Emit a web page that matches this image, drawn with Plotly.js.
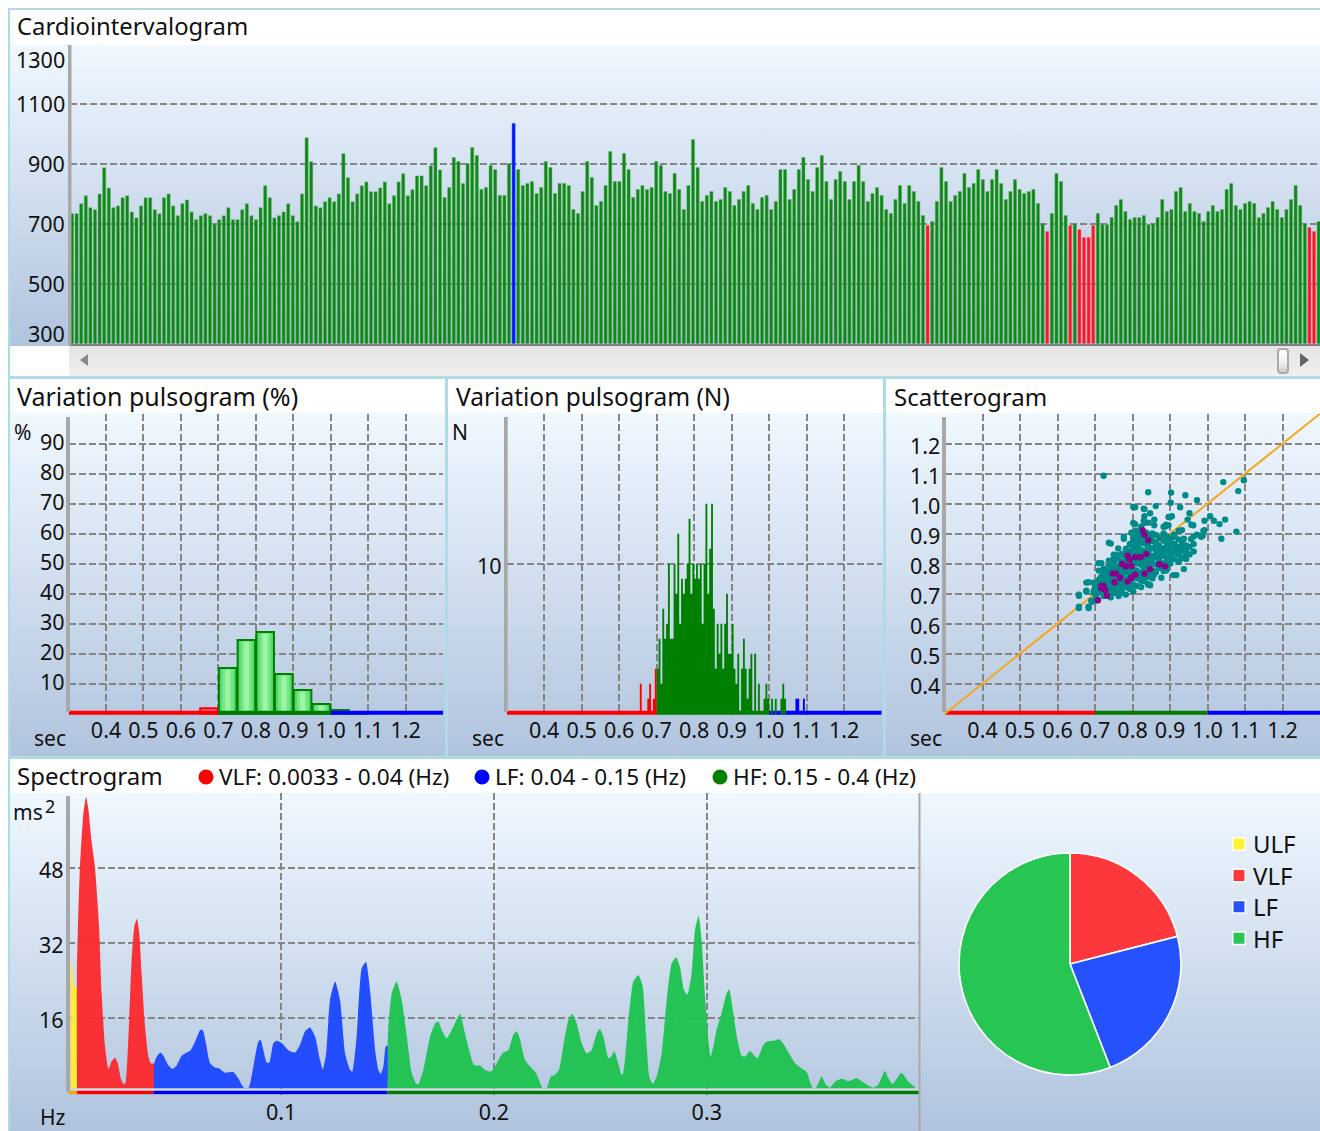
<!DOCTYPE html>
<html><head><meta charset="utf-8">
<script src="https://cdn.plot.ly/plotly-3.0.1.min.js"></script>
<style>
html,body{margin:0;padding:0;background:#fff;width:1320px;height:1131px;overflow:hidden}
#stage{position:absolute;left:0;top:0;width:1320px;height:1131px;overflow:hidden}
#stage div{position:absolute}
.grad{background:linear-gradient(to bottom,#f0f8ff,#b0c4de)}
.bd{background:#aedbe7}
#plot{left:0;top:0;width:1320px;height:1131px}
</style></head><body>
<div id="stage">
  <div class="bd" style="left:8px;top:8px;width:1312px;height:2px"></div>
  <div class="bd" style="left:8px;top:8px;width:2px;height:1123px"></div>
  <div class="grad" style="left:10px;top:45px;width:1310px;height:301px"></div>
  <div style="left:69px;top:346px;width:1251px;height:30px;background:linear-gradient(to bottom,#e4e4e4,#f0f0f0)"></div>
  <div style="left:80px;top:354px;width:8px;height:12px;background:#8a8a8a;clip-path:polygon(100% 0,100% 100%,0 50%)"></div>
  <div style="left:1300px;top:353px;width:9px;height:14px;background:#666;clip-path:polygon(0 0,0 100%,100% 50%)"></div>
  <div style="left:1277px;top:348px;width:8px;height:22px;border:2px solid #aaa;border-radius:4px;background:linear-gradient(to bottom,#fff,#f0f0f0 60%,#ccc)"></div>
  <div class="bd" style="left:8px;top:376px;width:1312px;height:3px"></div>
  <div class="grad" style="left:10px;top:413px;width:1310px;height:343px"></div>
  <div class="bd" style="left:445px;top:379px;width:3px;height:378px"></div>
  <div class="bd" style="left:883px;top:379px;width:3px;height:378px"></div>
  <div class="bd" style="left:8px;top:756px;width:1312px;height:3px"></div>
  <div class="grad" style="left:10px;top:793px;width:1310px;height:338px"></div>
  <div id="plot"></div>
</div>
<script>
// ---------- Cardiointervalogram (ms) ----------
const rrValues = [
736,736,769,796,756,749,802,889,822,756,762,789,796,742,722,762,789,789,749,736,
789,802,762,729,769,782,742,716,729,736,729,702,716,729,756,716,716,749,769,729,
716,756,829,789,722,729,742,769,729,709,802,989,909,762,756,776,789,776,802,936,
856,776,802,829,842,809,809,822,842,769,796,842,869,796,816,862,862,829,896,956,882,
790,823,923,910,837,903,957,930,817,823,897,883,797,797,903,1037,883,830,837,843,
803,823,910,890,803,837,837,830,750,737,810,910,857,763,777,830,943,843,843,937,
883,790,817,830,817,823,910,897,810,803,870,817,750,830,983,890,777,797,810,777,
783,823,810,763,783,810,830,770,750,790,797,750,777,883,883,783,817,883,923,850,
810,890,930,843,783,850,877,843,783,843,897,843,777,803,823,
797,750,737,783,830,770,830,810,777,730,697,710,777,890,843,777,797,810,870,823,
837,883,850,810,850,883,837,783,810,850,817,803,810,817,770,703,677,737,870,843,
730,697,703,683,657,657,697,737,700,700,723,763,783,743,717,723,723,730,700,703,
723,783,743,750,810,823,743,770,743,737,710,743,763,743,750,817,837,763,750,770,
777,770,723,737,757,777,750,723,750,783,830,763,703,690,677,710];
const rrTicks = [500,700,900,1100];
const rrLow = 700, rrHigh = 1000;

// ---------- Variation pulsogram (%) ----------
const pctBinCenters = [0.675,0.725,0.775,0.825,0.875,0.925,0.975,1.025,1.075];
const pctValues = [1.8,15.2,24.6,27.2,13.2,7.9,3.2,1.2,0.5];
const secTicks = [0.4,0.5,0.6,0.7,0.8,0.9,1.0,1.1,1.2];
const pctTicks = [10,20,30,40,50,60,70,80,90];

// ---------- Variation pulsogram (N), bins of 0.005 s from 0.655 s ----------
const nBinStart = 0.655, nBinWidth = 0.005;
const nCounts = [2,0,0,0,1,2,0,1,3,
3,5,2,7,5,6,10,5,5,10,8,12,6,9,8,9,10,13,8,10,9,10,9,10,6,10,14,8,11,14,7,3,6,4,6,3,6,8,4,4,
6,3,2,4,0,3,5,3,1,3,4,0,4,0,2,0,0,1,2,1,0,1,0,1,0,0,1,2,1,0,0,0,0,0,1,1,0,0,1];
const nGreenEnd = 1.05;
const nTicks = [10];

// ---------- Colour bands under the histograms ----------
const bandRed = [0.3,0.7], bandGreen = [0.7,1.0], bandBlue = [1.0,1.3];

// ---------- Scatterogram ----------
const scatterOutX = [.723,1.042,1.097,1.082,.842,.941,.972,.902,.862,.807,.832,.927,.847,.952,.905,.832,.947,.858,1.007,.992,1.017,1.047,1.032,.962,.807,.832,.858,.887,.896,.932,.992,1.077,.987,.972,.963,.742,.762,.717,.937,.917,.877,.847,.683,.677,.657,.657,.683,.692];
const scatterOutY = [1.093,1.072,1.078,1.042,1.038,1.028,1.012,1.003,.992,.988,.982,.988,.968,.968,.958,.958,.947,.947,.958,.943,.943,.947,.932,.928,.932,.936,.928,.924,.928,.912,.912,.907,.893,.897,.891,.867,.851,.802,.782,.762,.753,.728,.738,.707,.693,.652,.652,.673];
const scatterColumns = [
[.705,[.712,.735]],[.712,[.705,.725,.748]],[.723,[.692,.716,.742,.771]],
[.731,[.703,.727,.752,.782]],[.742,[.688,.712,.736,.761,.792]],
[.751,[.703,.726,.752,.777,.801]],[.763,[.692,.718,.741,.767,.791,.816]],
[.771,[.707,.732,.756,.781,.806,.832]],[.782,[.697,.722,.747,.771,.796,.822,.846]],
[.793,[.716,.742,.766,.791,.817,.841,.866]],[.802,[.707,.731,.757,.782,.806,.832,.856,.881]],
[.811,[.726,.752,.776,.801,.827,.851,.876]],[.823,[.722,.746,.771,.797,.821,.846,.872,.896]],
[.832,[.742,.766,.792,.816,.841,.867,.891]],[.841,[.732,.756,.781,.806,.832,.856,.881]],
[.853,[.751,.777,.801,.826,.852,.876,.901]],[.862,[.771,.797,.821,.846,.871,.896]],
[.871,[.786,.811,.837,.861,.886]],[.883,[.776,.801,.826,.851,.877,.901]],
[.892,[.792,.816,.841,.866,.891]],[.901,[.801,.826,.851,.876]],[.912,[.816,.842,.866,.891]],
[.923,[.806,.831,.856,.881]],[.932,[.821,.846,.871]],[.943,[.816,.836,.861]],
[.952,[.831,.856]],[.963,[.841,.866]]];
const scatterPurpleX = [.827,.832,.842,.787,.837,.822,.807,.792,.772,.782,.797,.847,.872,.887,.832,.807,.797,.787,.767,.747,.756,.752,.717,.723,.727,.732,.708,.717];
const scatterPurpleY = [.912,.897,.878,.827,.832,.822,.822,.813,.799,.791,.792,.782,.798,.791,.767,.763,.753,.741,.753,.767,.767,.738,.726,.726,.712,.693,.678,.719];
const identityLine = [0.3,1.3];
const scatterYTicks = [0.4,0.5,0.6,0.7,0.8,0.9,1.0,1.1,1.2];

// ---------- Spectrogram ----------
const ulfF = [.0013,.0019,.0028,.0041];
const ulfV = [28.4,27,22.8,22.2];
const vlfF = [.0041,.0046,.0055,.0071,.0084,.0095,.0110,.0126,.0145,.0157,.0173,.0189,.0204,.0220,.0233,.0247,.0259,.0268,.0283,.0298,.0311,.0323,.0334,.0345,.0361,.0377,.0388,.0403];
const vlfV = [25.6,35.6,48,59.5,63.2,60.5,53.7,48,35.6,21.3,10,5.2,6.8,7.6,6.4,3.2,2,2.1,12.1,28.4,35.6,37.2,34.1,25.6,14.2,7.8,6.4,6.3];
const lfF = [.0403,.0416,.0434,.0450,.0470,.0491,.0510,.0533,.0557,.0575,.0596,.0619,.0632,.0647,.0666,.0690,.0710,.0737,.0776,.0799,.0815,.0827,.0846,.0857,.0878,.0893,.0904,.0917,.0932,.0945,.0964,.0979,.1003,.1034,.1066,.1089,.1113,.1136,.1160,.1183,.1196,.1212,.1230,.1254,.1277,.1301,.1324,.1335,.1355,.1379,.1399,.1418,.1442,.1457,.1468,.1481,.1492,.1501];
const lfV = [6.3,7.8,8.7,7.8,6,5.2,6,8,8.7,9.2,11,13.4,13.5,10.7,6.4,5.5,5.3,4.4,4.5,3.2,1.8,1.07,1.07,2.5,7.8,11,11.4,9.2,6.6,6.5,10.7,11.2,10.7,9.2,8.7,10.3,13.2,14,12.1,7.1,5.1,8.5,19.9,23.8,19.9,8.5,5,4.6,12.1,26.7,28,22,9.2,5,4.1,5.7,10,10.1];
const hfF = [.1501,.1504,.1520,.1543,.1567,.1591,.1614,.1634,.1645,.1669,.1700,.1724,.1739,.1755,.1778,.1802,.1841,.1864,.1888,.1907,.1935,.1958,.1982,.1997,.2021,.2044,.2068,.2091,.2107,.2123,.2146,.2170,.2198,.2213,.2229,.2248,.2267,.2287,.2306,.2326,.2350,.2369,.2389,.2412,.2436,.2459,.2483,.2498,.2514,.2538,.2549,.2566,.2584,.2600,.2608,.2632,.2655,.2679,.2699,.2715,.2730,.2746,.2765,.2788,.2812,.2835,.2856,.2874,.2893,.2909,.2929,.2945,.2962,.2976,.2992,.3007,.3018,.3031,.3046,.3070,.3093,.3106,.3125,.3144,.3164,.3180,.3203,.3227,.3239,.3266,.3281,.3313,.3341,.3368,.3391,.3415,.3446,.3469,.3485,.3498,.3513,.3540,.3560,.3579,.3603,.3634,.3665,.3704,.3743,.3782,.3806,.3837,.3853,.3873,.3915,.3947,.3983];
const hfV = [10.1,14.2,21.3,23.8,19.9,12.1,4.3,2.1,1.9,5,12.1,14.9,15.3,13.5,11.7,13.5,16.9,12.8,8.5,6,5.9,5,4.6,5,7.1,8.7,9.2,12.4,13.2,11.4,7.1,5.7,4.3,2.7,1.07,1.07,3.6,3.9,5,10,15.6,16.9,14.9,10.7,8.5,9.2,12.8,13.7,12.1,7.5,7.7,8.9,6.4,3.9,4.3,15.6,23.8,25.2,22.8,12.1,3.6,2,3.6,8.5,19.9,27.7,29,27,22,21,25.6,34.9,37.8,32.7,20.6,11.4,7.8,10,13.5,17.1,21.3,22.2,17.1,11.4,8,7.8,9,7.8,7.5,10.3,11,11.2,11.5,10,8.2,6.4,5.3,4.6,2.5,1.07,1.2,3.6,1.8,1.2,2.5,3.1,2.6,3.2,2.1,1.2,1.8,4.8,3.2,2,4.4,2.5,1.07];
const specBase = 1.07;
const specTicksX = [0.1,0.2,0.3];
const specTicksY = [16,32,48];
const specBands = [[0,0.0041,'#f5a300'],[0.0041,0.04,'#ff0000'],[0.04,0.15,'#0000f0'],[0.15,0.4,'#007d00']];

// ---------- Pie ----------
const pieLabels = ['ULF','VLF','LF','HF'];
const pieValues = [0,21.0,23.1,55.9];
const pieColors = ['#fff233','#fd383c','#2551ff','#27c554'];

// ---------- Header legend ----------
const bandLegendText = ['VLF: 0.0033 - 0.04 (Hz)','LF: 0.04 - 0.15 (Hz)','HF: 0.15 - 0.4 (Hz)'];
const bandLegendColor = ['#ff0000','#0000ff','#008000'];
const bandLegendDot = [206,482,720];

// ---------- helpers ----------
const W = 1320, H = 1131;
const FONT = 'Noto Sans, Open Sans, sans-serif';
const TXT = '#111';
const px = x => x / W;
const py = y => 1 - y / H;
const dx = (a, b) => [px(a), px(b)];
const dy = (top, bot) => [py(bot), py(top)];
const GRID = {showgrid:true, gridcolor:'#858585', gridwidth:2, griddash:'7px,3px', zeroline:false};
const AXIS = '#a8a8a8';
const tfont = {family:FONT, size:21.5, color:TXT};

const traces = [];
const rrIndex = rrValues.map((_, i) => i);
traces.push({type:'bar', x:rrIndex, y:rrValues, xaxis:'x', yaxis:'y', width:0.68,
  marker:{color:rrValues.map(v => v < rrLow ? '#ff1226' : v > rrHigh ? '#0018f5' : '#0a8a14'),
          line:{color:rrValues.map(v => v < rrLow ? 'rgba(255,110,120,0.8)' : v > rrHigh ? 'rgba(60,90,255,0.8)' : 'rgba(110,170,110,0.8)'), width:0.6}}, hoverinfo:'skip'});

function bandLine(xa, ya, xs, yv, color, width) {
  return {type:'scatter', mode:'lines', x:xs, y:[yv,yv], xaxis:xa, yaxis:ya, cliponaxis:false,
    line:{color, width}, hoverinfo:'skip', showlegend:false};
}
// % panel
traces.push(bandLine('x2','y2',bandRed,0.3,'#ff0000',4));
traces.push(bandLine('x2','y2',bandBlue,0.3,'#0000ff',4));
traces.push(bandLine('x2','y2',bandGreen,0.3,'#007d00',4));
traces.push({type:'bar', x:pctBinCenters, y:pctValues, xaxis:'x2', yaxis:'y2', width:0.047,
  marker:{color:pctBinCenters.map(c => c < 0.7 ? '#ff7090' : '#56d96b'),
          line:{color:pctBinCenters.map(c => c < 0.7 ? '#ff0000' : '#008000'), width:2}}, hoverinfo:'skip'});
traces.push({type:'bar', x:pctBinCenters, y:pctValues.map(v => v > 3 ? v - 0.5 : 0), xaxis:'x2', yaxis:'y2', width:0.03,
  marker:{color:'#78e688', line:{width:0}}, hoverinfo:'skip'});
traces.push({type:'bar', x:pctBinCenters, y:pctValues.map(v => v > 3 ? v - 0.5 : 0), xaxis:'x2', yaxis:'y2', width:0.014,
  marker:{color:'#9bf5a3', line:{width:0}}, hoverinfo:'skip'});

// N panel: solid stepped shapes, one per colour
traces.push(bandLine('x3','y3',bandRed,0.06,'#ff0000',4));
traces.push(bandLine('x3','y3',bandBlue,0.06,'#0000ff',4));
traces.push(bandLine('x3','y3',bandGreen,0.06,'#007d00',4));
const nCenters = nCounts.map((_, i) => nBinStart + nBinWidth * (i + 0.5));
function nStep(lo, hi, color) {
  const xs = [nCenters[0] - nBinWidth].concat(nCenters, [nCenters[nCenters.length-1] + nBinWidth]);
  const ys = [0].concat(nCounts.map((c, i) => (nCenters[i] >= lo && nCenters[i] < hi) ? c : 0), [0]);
  return {type:'scatter', mode:'lines', x:xs, y:ys, xaxis:'x3', yaxis:'y3', fill:'tozeroy', fillcolor:color,
    line:{shape:'hvh', width:0, color}, hoverinfo:'skip'};
}
traces.push(nStep(0, 0.7, '#ff0000'));
traces.push(nStep(nGreenEnd, 2, '#0000ff'));
traces.push(nStep(0.7, nGreenEnd, '#008000'));

// scatter panel: each interval against the next, plus points
traces.push(bandLine('x4','y4',bandRed,0.303,'#ff0000',4));
traces.push(bandLine('x4','y4',bandBlue,0.303,'#0000ff',4));
traces.push(bandLine('x4','y4',bandGreen,0.303,'#007d00',4));
traces.push({type:'scatter', mode:'lines', x:identityLine, y:identityLine, xaxis:'x4', yaxis:'y4',
  line:{color:'#f5a81e', width:2}, hoverinfo:'skip'});
const clusterX = scatterColumns.flatMap(c => c[1].map(() => c[0]));
const clusterY = scatterColumns.flatMap(c => c[1]);
const pairX = rrValues.slice(0, -1).map(v => v / 1000);
const pairY = rrValues.slice(1).map(v => v / 1000);
traces.push({type:'scatter', mode:'markers', x:scatterOutX.concat(clusterX, pairX), y:scatterOutY.concat(clusterY, pairY),
  xaxis:'x4', yaxis:'y4', marker:{color:'#008b8b', size:6.4}, hoverinfo:'skip'});
traces.push({type:'scatter', mode:'markers', x:scatterPurpleX, y:scatterPurpleY, xaxis:'x4', yaxis:'y4',
  marker:{color:'#8b008b', size:6.4}, hoverinfo:'skip'});

// spectrogram
function spec(fs, vs, color) {
  return {type:'scatter', mode:'lines', fill:'toself', fillcolor:color,
    x:[fs[0]].concat(fs, [fs[fs.length-1]]), y:[specBase].concat(vs, [specBase]),
    xaxis:'x5', yaxis:'y5', line:{width:0, color:color, shape:'spline', smoothing:0.5}, hoverinfo:'skip'};
}
traces.push(spec(ulfF, ulfV, 'rgba(255,236,45,0.95)'));
traces.push(spec(vlfF, vlfV, 'rgba(252,40,45,0.95)'));
traces.push(spec(lfF, lfV, 'rgba(28,72,255,0.96)'));
traces.push(spec(hfF, hfV, 'rgba(30,195,80,0.96)'));
traces.push(bandLine('x5','y5',[0,0.4],0.75,'#d5dde8',2));
specBands.forEach(b => traces.push(bandLine('x5','y5',[b[0],b[1]],0.17,b[2],3.6)));

// header legend dots
traces.push({type:'scatter', mode:'markers', x:bandLegendDot, y:[0,0,0], xaxis:'x7', yaxis:'y7',
  marker:{color:bandLegendColor, size:15}, hoverinfo:'skip', cliponaxis:false});

// pie
traces.push({type:'pie', labels:pieLabels, values:pieValues, sort:false, direction:'clockwise', rotation:0,
  textinfo:'none', hoverinfo:'skip', showlegend:false,
  domain:{x:dx(959,1181), y:dy(853,1075)},
  marker:{colors:pieColors, line:{color:'#ffffff', width:1.6}}});

// pie legend swatches
traces.push({type:'scatter', mode:'markers', x:[0,0,0,0], y:[0,1,2,3], xaxis:'x6', yaxis:'y6', cliponaxis:false,
  marker:{symbol:'square', size:12.5, color:pieColors, line:{color:'#ffffff', width:1.5}}, hoverinfo:'skip'});

// annotations
function note(x, y, text, size, anchor) {
  return {xref:'paper', yref:'paper', x:px(x), y:py(y), text, showarrow:false,
    xanchor:anchor || 'left', yanchor:'middle', align:'left',
    font:{family:FONT, size:size || 21, color:TXT}};
}
function yTicks(yref, vals, texts, right, shift) {
  return vals.map((v, i) => ({xref:'paper', yref, x:px(right), y:v, text:texts[i], showarrow:false,
    xanchor:'right', yanchor:'middle', yshift:shift, font:tfont}));
}
const annotations = [
  note(15,26,'Cardiointervalogram',23.8), note(15,396,'Variation pulsogram (%)',25),
  note(454,396,'Variation pulsogram (N)',24.5), note(892,396,'Scatterogram',24), note(15,775.5,'Spectrogram',24),
  note(217,776.5,bandLegendText[0],22.6), note(493,776.5,bandLegendText[1],22.6), note(731,776.5,bandLegendText[2],22.6),
  note(12,432,'%',21), note(450,432,'N',21),
  note(32,738,'sec',21), note(470,738,'sec',21), note(908,738,'sec',21),
  note(11,812,'ms',21), note(43,806,'2',18), note(38,1117,'Hz',21),
  note(67,60,'1300',21.5,'right'), note(67,333,'300',21.5,'right')
].concat(
  pieLabels.map((t, i) => note(1251, [843,875,906,938][i], t, 24)),
  yTicks('y', rrTicks, rrTicks.map(String), 67, 1),
  yTicks('y2', pctTicks, pctTicks.map(String), 67, 2),
  yTicks('y3', nTicks, nTicks.map(String), 504, -1.5),
  yTicks('y4', scatterYTicks, scatterYTicks.map(v => v.toFixed(1)), 942, -2),
  yTicks('y5', specTicksY, specTicksY.map(String), 66, -1)
);

function secAxis(left, right, anchor) {
  return Object.assign({}, GRID, {domain:dx(left,right), range:[0.3,1.3], anchor,
    tickvals:secTicks, ticktext:secTicks.map(v => v.toFixed(1)), tickfont:tfont, ticks:'', ticklabelstandoff:3.5,
    showline:false, fixedrange:true});
}
function leftAxis(range, vals, anchor, top, bot) {
  return Object.assign({}, GRID, {domain:dy(top,bot), range, anchor, tickvals:vals,
    showticklabels:false, ticks:'', showline:false, fixedrange:true});
}
const hidden = {visible:false, fixedrange:true};
function axisBar(x0, x1, y0, y1) {
  return {type:'rect', xref:'paper', yref:'paper', x0:px(x0), x1:px(x1), y0:py(y0), y1:py(y1),
    fillcolor:AXIS, line:{width:0}, layer:'above'};
}

const layout = {
  width:W, height:H, margin:{l:0,r:0,t:0,b:0,pad:0}, autosize:false, showlegend:false,
  paper_bgcolor:'rgba(0,0,0,0)', plot_bgcolor:'rgba(0,0,0,0)', barmode:'overlay', hovermode:false,
  font:{family:FONT, color:TXT},
  xaxis:{domain:dx(70,1320), range:[-0.435,271.3], anchor:'y', showgrid:false, zeroline:false, showticklabels:false,
    ticks:'', showline:true, linecolor:'#7f7f7f', linewidth:2, fixedrange:true},
  yaxis:leftAxis([303.3,1298.3], rrTicks, 'x', 45, 343.5),
  xaxis2:secAxis(68.6,443,'y2'),
  yaxis2:leftAxis([-0.5,100], pctTicks, 'x2', 413.7, 715.2),
  xaxis3:secAxis(506.7,881.7,'y3'),
  yaxis3:leftAxis([-0.1,20], nTicks, 'x3', 413.7, 715.2),
  xaxis4:secAxis(945,1320,'y4'),
  yaxis4:leftAxis([0.295,1.3], scatterYTicks, 'x4', 413.7, 715.2),
  xaxis5:Object.assign({}, GRID, {domain:dx(68.2,919.6), range:[0,0.4], anchor:'y5', tickvals:specTicksX,
    ticktext:specTicksX.map(v => v.toFixed(1)), tickfont:tfont, ticks:'', ticklabelstandoff:3, fixedrange:true}),
  yaxis5:leftAxis([-0.32,64], specTicksY, 'x5', 793, 1094.8),
  xaxis6:Object.assign({domain:dx(1239,1300), range:[0,1], anchor:'y6'}, hidden),
  yaxis6:Object.assign({domain:dy(844,938.3), range:[3,0], anchor:'x6'}, hidden),
  xaxis7:Object.assign({domain:dx(206,720), range:[206,720], anchor:'y7'}, hidden),
  yaxis7:Object.assign({domain:dy(770,784), range:[-1,1], anchor:'x7'}, hidden),
  annotations,
  shapes:[
    axisBar(68,71.5,45,345), axisBar(66,70,417,712), axisBar(504,507.7,417,712),
    axisBar(942,946,417,712), axisBar(66,70,796,1091.7), axisBar(918.5,920.5,793,1131)
  ]
};

Plotly.newPlot('plot', traces, layout, {displayModeBar:false, staticPlot:true});
</script>
</body></html>
